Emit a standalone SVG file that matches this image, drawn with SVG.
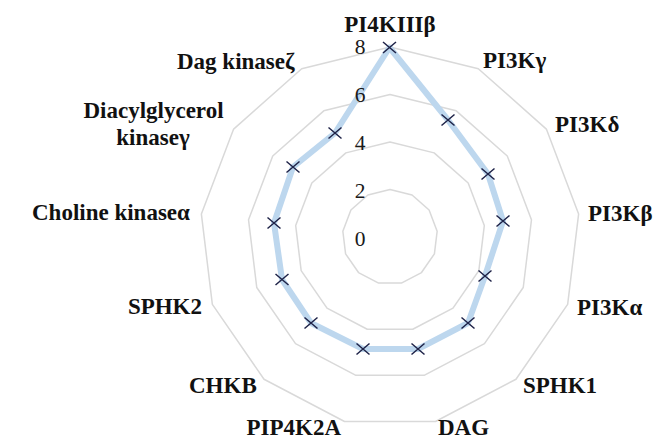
<svg xmlns="http://www.w3.org/2000/svg" width="655" height="440" viewBox="0 0 655 440">
<style>
.grid{fill:none;stroke:#d9d9d9;stroke-width:1.5;stroke-linejoin:round}
.series{fill:none;stroke:#bdd7ee;stroke-width:6;stroke-linejoin:round}
.mk{stroke:#1f2348;stroke-width:1.5;fill:none}
.lbl{font-family:"Liberation Serif","Times New Roman",serif;font-weight:bold;font-size:23px;fill:#111}
.tick{font-family:"Liberation Serif","Times New Roman",serif;font-size:21.5px;fill:#1a1a1a;text-anchor:middle}
</style>
<defs>
<path id="x" class="mk" d="M-6.5,-5.5L6.5,5.5M-6.5,5.5L6.5,-5.5"/>
</defs>
<rect width="655" height="440" fill="#fff"/>
<g id="grid">
<polygon class="grid" points="390,189.5 412.07,194.94 429.09,210.02 437.15,231.27 434.41,253.84 421.5,272.55 401.37,283.12 378.63,283.12 358.5,272.55 345.59,253.84 342.85,231.27 350.91,210.02 367.93,194.94"/>
<polygon class="grid" points="390,142 434.15,152.88 468.18,183.03 484.31,225.55 478.83,270.69 453,308.11 412.74,329.24 367.26,329.24 327,308.11 301.17,270.69 295.69,225.55 311.82,183.03 345.85,152.88"/>
<polygon class="grid" points="390,94.5 456.22,110.82 507.27,156.05 531.46,219.82 523.24,287.53 484.49,343.66 424.1,375.36 355.9,375.36 295.51,343.66 256.76,287.53 248.54,219.82 272.73,156.05 323.78,110.82"/>
<polygon class="grid" points="390,47 478.3,68.76 546.37,129.07 578.61,214.1 567.65,304.37 515.99,379.22 435.47,421.48 344.53,421.48 264.01,379.22 212.35,304.37 201.39,214.1 233.63,129.07 301.7,68.76"/>
</g>
<g id="connectors">
<polygon class="series" points="389.5,47.5 448,120 488,174 503,221 485,276 468,323 418,349 363,349 311,323 282,279.5 274,223 293,167 335,133"/>
</g>
<g id="markers">
<use href="#x" x="389.5" y="47.5"/>
<use href="#x" x="448" y="120"/>
<use href="#x" x="488" y="174"/>
<use href="#x" x="503" y="221"/>
<use href="#x" x="485" y="276"/>
<use href="#x" x="468" y="323"/>
<use href="#x" x="418" y="349"/>
<use href="#x" x="363" y="349"/>
<use href="#x" x="311" y="323"/>
<use href="#x" x="282" y="279.5"/>
<use href="#x" x="274" y="223"/>
<use href="#x" x="293" y="167"/>
<use href="#x" x="335" y="133"/>
</g>
<g id="ticks">
<text class="tick" x="360" y="54">8</text>
<text class="tick" x="360" y="102">6</text>
<text class="tick" x="360" y="150">4</text>
<text class="tick" x="360" y="198">2</text>
<text class="tick" x="360" y="246">0</text>
</g>
<g id="n-PI4KIIIb"><text class="lbl" x="390" y="32" text-anchor="middle">PI4KIIIβ</text></g>
<g id="n-PI3Kg"><text class="lbl" x="483" y="68">PI3Kγ</text></g>
<g id="n-PI3Kd"><text class="lbl" x="555" y="132">PI3Kδ</text></g>
<g id="n-PI3Kb"><text class="lbl" x="588" y="221">PI3Kβ</text></g>
<g id="n-PI3Ka"><text class="lbl" x="577" y="315">PI3Kα</text></g>
<g id="n-SPHK1"><text class="lbl" x="523" y="393">SPHK1</text></g>
<g id="n-DAG"><text class="lbl" x="438" y="435">DAG</text></g>
<g id="n-PIP4K2A"><text class="lbl" x="341" y="435" text-anchor="end">PIP4K2A</text></g>
<g id="n-CHKB"><text class="lbl" x="189" y="393">CHKB</text></g>
<g id="n-SPHK2"><text class="lbl" x="202" y="314" text-anchor="end">SPHK2</text></g>
<g id="n-Choline"><text class="lbl" x="32" y="220">Choline kinaseα</text></g>
<g id="n-Diacylglycerol"><text class="lbl" x="153.5" y="118" text-anchor="middle">Diacylglycerol</text><text class="lbl" x="153" y="145" text-anchor="middle">kinaseγ</text></g>
<g id="n-Dagz"><text class="lbl" x="177" y="69">Dag kinaseζ</text></g>
</svg>
